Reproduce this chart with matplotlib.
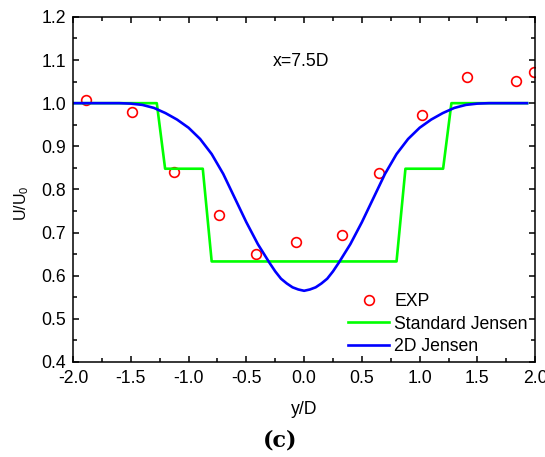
"""Wake velocity profile at x=7.5D: experiment vs standard and 2D Jensen models."""

import matplotlib as mpl
import matplotlib.pyplot as plt
from matplotlib.ticker import MultipleLocator

mpl.rcParams["font.family"] = ["Liberation Sans", "DejaVu Sans"]
mpl.rcParams["axes.unicode_minus"] = False

# %% data
exp_y = [-1.89, -1.49, -1.13, -0.74, -0.42, -0.07, 0.33, 0.65, 1.02, 1.41, 1.83, 1.99]
exp_u = [1.007, 0.980, 0.840, 0.741, 0.650, 0.677, 0.695, 0.837, 0.973, 1.061, 1.052, 1.073]

std_y = [-2.0, -1.275, -1.203, -0.877, -0.80, 0.80, 0.877, 1.203, 1.275, 1.93]
std_u = [1.0, 1.0, 0.848, 0.848, 0.633, 0.633, 0.848, 0.848, 1.0, 1.0]

jen_y = [-2.0, -1.8, -1.6, -1.5, -1.4, -1.3, -1.2, -1.1, -1.0, -0.9, -0.8, -0.7,
         -0.6, -0.5, -0.4, -0.3, -0.25, -0.2, -0.15, -0.1, -0.05, 0.0,
         0.05, 0.1, 0.15, 0.2, 0.25, 0.3, 0.4, 0.5, 0.6,
         0.7, 0.8, 0.9, 1.0, 1.1, 1.2, 1.3, 1.4, 1.5, 1.6, 1.8, 1.93]
jen_u = [1.0, 1.0, 1.0, 0.999, 0.996, 0.989, 0.977, 0.962, 0.943, 0.917, 0.882, 0.836,
         0.780, 0.724, 0.673, 0.630, 0.610, 0.593, 0.582, 0.573, 0.568, 0.565,
         0.568, 0.573, 0.582, 0.593, 0.610, 0.630, 0.673, 0.724, 0.780,
         0.836, 0.882, 0.917, 0.943, 0.962, 0.977, 0.989, 0.996, 0.999,
         1.0, 1.0, 1.0]

# %% plot
fs = 12.7
fig = plt.figure(figsize=(5.45, 4.57), dpi=100)
ax = fig.add_axes([0.134, 0.208, 0.848, 0.755])

ax.plot(exp_y, exp_u, "o", ms=7, mfc="none", mec="#ff0000", mew=1.2, label="EXP")
ax.plot(std_y, std_u, color="#00ff00", lw=1.9, label="Standard Jensen")
ax.plot(jen_y, jen_u, color="#0000ff", lw=1.9, label="2D Jensen")

ax.set_xlim(-2.0, 2.0)
ax.set_ylim(0.4, 1.2)
ax.xaxis.set_major_locator(MultipleLocator(0.5))
ax.xaxis.set_minor_locator(MultipleLocator(0.25))
ax.yaxis.set_major_locator(MultipleLocator(0.1))
ax.yaxis.set_minor_locator(MultipleLocator(0.05))
ax.xaxis.set_major_formatter("{x:.1f}")
ax.yaxis.set_major_formatter("{x:.1f}")
ax.tick_params(which="both", direction="in", top=True, right=True, width=1.1)
ax.tick_params(which="major", length=4.5, labelsize=fs)
ax.tick_params(axis="x", which="major", pad=6)
ax.tick_params(axis="y", which="major", pad=5)
ax.tick_params(which="minor", length=3)
for sp in ax.spines.values():
    sp.set_linewidth(1.1)

ax.set_xlabel("y/D", fontsize=fs, labelpad=10)
ax.set_ylabel(r"U/U$_\mathregular{0}$", fontsize=11.5)
ax.yaxis.set_label_coords(-0.09, 0.461)
ax.text(-0.27, 1.096, "x=7.5D", fontsize=fs, va="center", ha="left")

ax.legend(loc="upper left", bbox_to_anchor=(0.596, 0.199), frameon=False,
          fontsize=fs, handlelength=2.3, handletextpad=0.3, labelspacing=0.3,
          borderpad=0, borderaxespad=0)

fig.text(0.514, 0.037, "(c)", family="DejaVu Serif", weight="bold",
         fontsize=16, ha="center", va="center")

fig.savefig("out.png", dpi=100)
